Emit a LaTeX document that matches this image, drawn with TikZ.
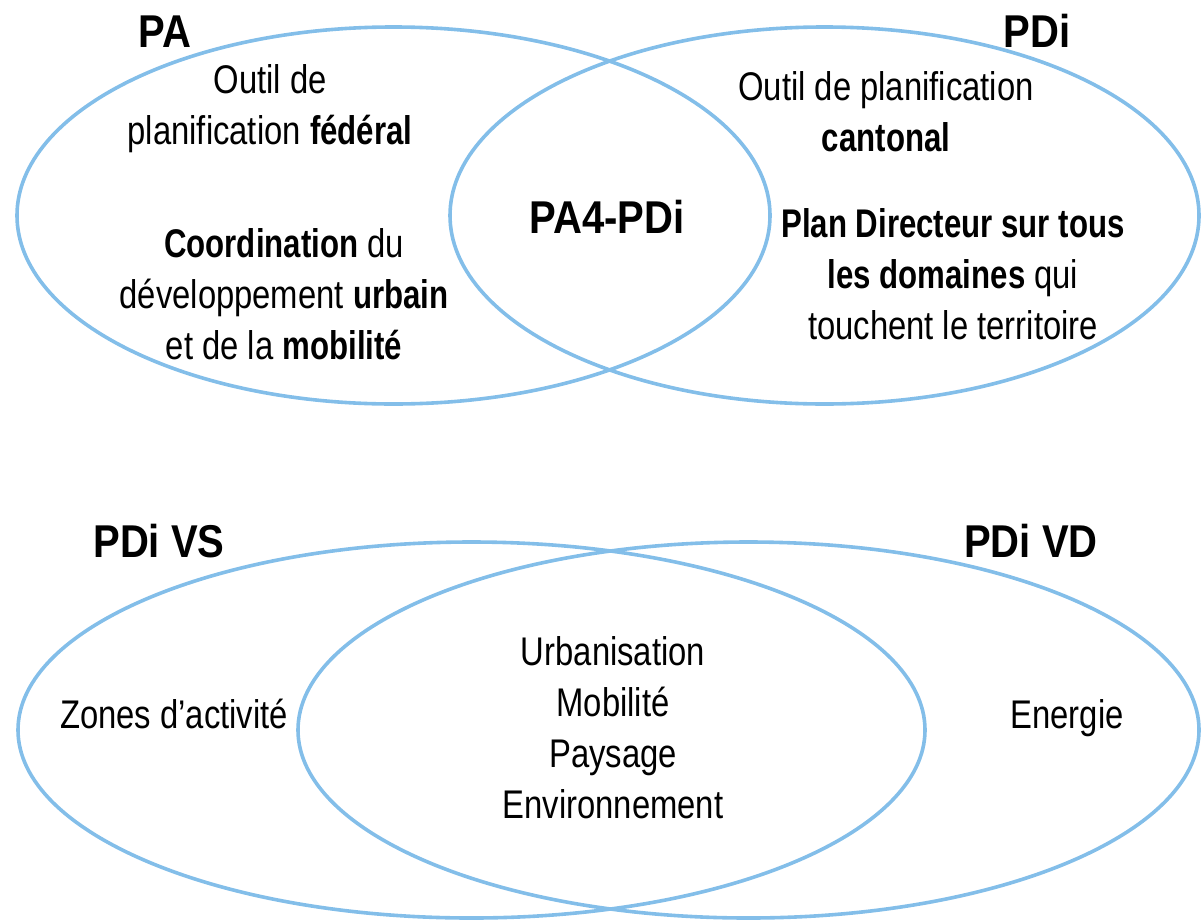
\documentclass[tikz,border=0pt]{standalone}
\usepackage{fontspec}
\setmainfont{Liberation Sans}[FakeStretch=0.82, BoldFeatures={FakeStretch=0.78}]
\newfontfamily\titlefont{Liberation Sans}[FakeStretch=0.87]
\definecolor{vennblue}{RGB}{131,190,233}
\tikzset{
  venn/.style={draw=vennblue, line width=3.6pt},
  body/.style={font=\fontsize{40}{51}\selectfont, inner sep=0pt, align=center},
  title/.style={font=\titlefont\bfseries\fontsize{46}{52}\selectfont, inner sep=0pt},
}
\begin{document}
\begin{tikzpicture}[x=1pt,y=-1pt]
\useasboundingbox (0,0) rectangle (1201,921);
% ellipses
\coordinate (cPA) at (393.5,215.5);
\coordinate (cPDi) at (824.5,215.5);
\coordinate (cVS) at (471.5,730);
\coordinate (cVD) at (748.5,730);
\draw[venn] (cPA) ellipse [x radius=376.5pt, y radius=188.5pt];
\draw[venn] (cPDi) ellipse [x radius=374.5pt, y radius=188.5pt];
\draw[venn] (cVS) ellipse [x radius=453.5pt, y radius=188pt];
\draw[venn] (cVD) ellipse [x radius=450.5pt, y radius=188pt];
% titles
\node[title, anchor=base] (tPA) at (165,47) {PA};
\node[title, anchor=base] (tPDi) at (1037,47) {PDi};
\node[title, anchor=base] (tPA4) at (607,233) {PA4-PDi};
\node[title, anchor=base] (tVS) at (159,557) {PDi VS};
\node[title, anchor=base] (tVD) at (1031,557) {PDi VD};
% texts
\node[body, anchor=north] (pa1) at (270,64) {Outil de\\planification \textbf{fédéral}};
\node[body, anchor=north] (pa2) at (284,228) {\textbf{Coordination} du\\développement \textbf{urbain}\\et de la \textbf{mobilité}};
\node[body, anchor=north] (pdi1) at (886,71) {Outil de planification\\\textbf{cantonal}};
\node[body, anchor=north] (pdi2) at (953,208) {\textbf{Plan Directeur sur tous}\\\textbf{les domaines} qui\\touchent le territoire};
\node[body, anchor=base] (vs) at (174,728) {Zones d’activité};
\node[body, anchor=base] (vd) at (1067,728) {Energie};
\node[body, anchor=north] (common) at (613,636) {Urbanisation\\Mobilité\\Paysage\\Environnement};
\end{tikzpicture}
\end{document}
